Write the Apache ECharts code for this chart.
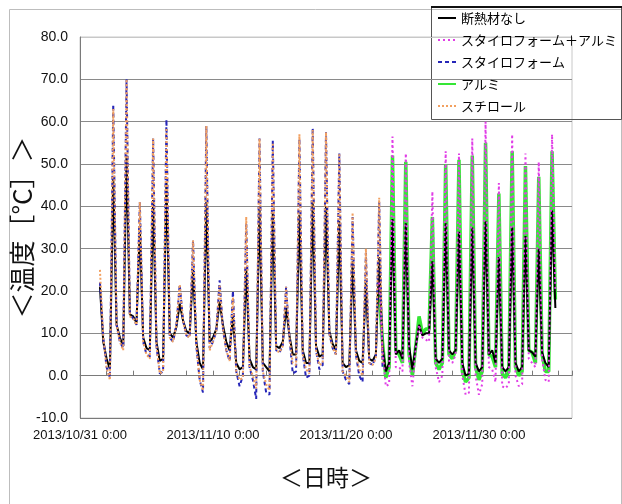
<!DOCTYPE html>
<html>
<head>
<meta charset="utf-8">
<script src="https://cdn.jsdelivr.net/npm/echarts@6/dist/echarts.min.js"></script>
<style>
html, body { margin: 0; background: #fff; }
#chart { width: 622px; height: 504px; }
</style>
</head>
<body>
<div id="chart"></div>
<script>
// x = days since 2013/10/31 0:00, one reading every 6 hours
var stepDay = 0.25;
var firstDay = 1.5;     // 2013/11/01 12:00
var secondDay = 22.5;   // 2013/11/22 12:00 (アルミ runs start)

var tickLabels = ['2013/10/31 0:00', '2013/11/10 0:00', '2013/11/20 0:00', '2013/11/30 0:00'];
var seriesNames = ['断熱材なし', 'スタイロフォーム＋アルミ', 'スタイロフォーム', 'アルミ', 'スチロール'];

// 断熱材なし (from firstDay)
var noInsul = [
	21, 8,
	4, 1.5, 47, 12,
	9, 7, 52, 14.5,
	14, 12.5, 35, 9,
	6.5, 6, 41.5, 8,
	3.5, 4, 45.5, 10,
	9, 11.5, 17, 13,
	10.5, 10, 25, 8,
	3, 1.5, 41, 8,
	9, 11, 17.5, 12,
	8, 6, 14, 3,
	1.5, 2, 25.5, 4,
	2, 1.5, 40, 3,
	2, 1, 38.5, 7,
	6.5, 8, 16, 9.5,
	5, 5, 38, 6,
	3, 3, 41, 7,
	4.5, 5, 40, 10.5,
	7.5, 6, 36.5, 3,
	2, 2.5, 27, 6,
	3.5, 3, 22, 4,
	3.5, 5, 28, 7,
	1, 3, 37, 5,
	6, 4, 36, 7,
	1.5, 7, 12, 9.5,
	10, 10, 27, 4,
	3, 4, 36, 6,
	5, 6, 34, 3,
	0, 0.5, 35, 3,
	1, 2, 36.5, 5,
	6, 3, 28, 2,
	1, 2, 35, 3,
	1, 2, 33, 6,
	5.5, 4.5, 30, 5.5,
	3, 2, 39, 16
];

// スタイロフォーム (from firstDay)
var styro = [
	22, 9,
	2, -0.5, 64, 12,
	8, 6.5, 70, 14.5,
	13.5, 12, 41, 8,
	5, 4.5, 56, 7,
	0.5, 1, 60.5, 9,
	8, 12, 21.5, 13,
	9.5, 9, 32, 7,
	-1, -4, 59, 6.5,
	8, 10.5, 22.5, 11,
	6, 3.5, 20, 1,
	-2.5, 0, 36, 2,
	-1, -5.5, 56, 1,
	-4, -4.5, 55.5, 6,
	5.5, 7, 21, 9,
	0.5, 1, 56, 5,
	-0.5, 0, 58.5, 6,
	1.5, 2.5, 57.5, 10,
	6.5, 5, 52.5, 1,
	-1, -2, 37.5, 5,
	0, -1.5, 29, 3,
	2.5, 4.5, 41, 2
];

// スチロール (from firstDay)
var styrol = [
	25, 9,
	2, -1, 63, 12,
	8, 6, 70, 14,
	13.5, 12, 41, 8,
	5, 4, 56, 7,
	0.5, 1, 58.5, 9,
	8, 12, 21.5, 13,
	9.5, 9, 32, 7,
	-1, -3.5, 59, 6,
	8, 10.5, 21.5, 11,
	6, 3.5, 18.5, 1,
	-1, -0.5, 37.5, 2,
	0, -3, 56, 1,
	-2, -3.5, 55, 6,
	5.5, 7, 21, 9,
	3, 2.5, 57, 5,
	1.5, 0.5, 58, 6,
	2.5, 3, 57.5, 10,
	6.5, 5, 52.5, 1,
	0, -1.5, 38.5, 5,
	1.5, 0, 30, 3,
	2.5, 4, 42, 3
];

// アルミ (from secondDay)
var alumi = [
	20, 8,
	-0.5, 2, 52, 6,
	5, 3, 50.5, 5,
	0, 7, 14, 10,
	11, 11, 37.5, 3,
	1.5, 3, 50, 5,
	4, 6, 51, 1,
	-1.5, -0.5, 52, 2,
	-1, 1, 55, 5,
	4.5, 2, 43, 0.5,
	-0.5, 1, 53, 2,
	0, 1, 49.5, 6,
	5.5, 3, 47, 5,
	1, 1, 53, 18
];

// スタイロフォーム＋アルミ (from secondDay)
var styroAlumi = [
	22, 6,
	-2.5, -2, 56.5, 2,
	2, 1, 52.5, 3,
	-2.5, 6.5, 12, 9,
	8.5, 8, 43.5, 2,
	-1.5, 0, 53, 3.5,
	3, 5, 52.5, 0,
	-4.5, -4, 56, 0,
	-4.5, -2, 60, 2,
	1.5, -1.5, 45.5, -2.5,
	-3, -2, 57, 0,
	-2.5, -2, 52.5, 4,
	3, 2, 50.5, 4,
	-1, -1.5, 57, 20
];

function toPairs(start, values) {
	return values.map(function (v, i) {
		return [start + i * stepDay, v];
	});
}

var numFont = '"Liberation Sans", Arial, sans-serif';
var jpFont = '"Noto Sans CJK JP", sans-serif';

var chart = echarts.init(document.getElementById('chart'));

var option = {
	animation: false,
	backgroundColor: '#fff',
	graphic: [
		{ type: 'rect', shape: { x: 9.5, y: 9.5, width: 612, height: 500 }, style: { fill: 'none', stroke: '#bdbdbd', lineWidth: 1 } },
		{ type: 'rect', shape: { x: 431.5, y: 7.5, width: 190, height: 112 }, style: { fill: 'none', stroke: '#555', lineWidth: 1 } },
		{ type: 'line', shape: { x1: 431, y1: 7, x2: 622, y2: 7 }, style: { stroke: '#111', lineWidth: 2 } }
	],
	grid: {
		left: 80,
		right: 50,
		top: 37,
		bottom: 86,
		containLabel: false,
		outerBoundsMode: 'none',
		show: true,
		borderColor: '#c8c8c8',
		borderWidth: 1
	},
	legend: {
		orient: 'vertical',
		left: 433,
		top: 8,
		padding: [3, 0, 0, 4],
		itemWidth: 18,
		itemHeight: 14,
		itemGap: 8,
		data: seriesNames,
		itemStyle: { opacity: 0 },
		textStyle: {
			fontFamily: jpFont,
			fontSize: 13,
			lineHeight: 14,
			color: '#000'
		}
	},
	xAxis: {
		type: 'value',
		min: 0,
		max: 37,
		interval: 2,
		splitLine: { show: false },
		axisLine: { lineStyle: { color: '#7a7a7a' } },
		axisTick: { inside: true, length: 5, lineStyle: { color: '#7a7a7a' } },
		axisLabel: {
			color: '#111',
			fontFamily: numFont,
			fontSize: 13,
			margin: 11,
			formatter: function (v) {
				return v % 10 === 0 ? tickLabels[v / 10] : '';
			}
		},
		name: '＜日時＞',
		nameLocation: 'middle',
		nameGap: 48,
		nameMoveOverlap: false,
		nameTextStyle: { fontFamily: jpFont, fontSize: 23, color: '#111' }
	},
	yAxis: {
		type: 'value',
		min: -10,
		max: 80,
		interval: 10,
		axisLine: { show: true, lineStyle: { color: '#7a7a7a' } },
		axisTick: { show: false },
		splitLine: {
			lineStyle: {
				color: ['#7a7a7a', '#8a8a8a', '#8a8a8a', '#8a8a8a', '#8a8a8a', '#8a8a8a', '#8a8a8a', '#8a8a8a', '#8a8a8a', '#c8c8c8']
			}
		},
		axisLabel: {
			color: '#111',
			fontFamily: numFont,
			fontSize: 14,
			margin: 12,
			formatter: function (v) { return v.toFixed(1); }
		},
		name: '＜温度［°C］＞',
		nameLocation: 'middle',
		nameRotate: 90,
		nameGap: 45,
		nameMoveOverlap: false,
		nameTextStyle: { fontFamily: jpFont, fontSize: 26, color: '#111' }
	},
	series: [
		{
			name: seriesNames[0], type: 'line', symbol: 'none', z: 3,
			lineStyle: { color: '#000', width: 2 }, itemStyle: { color: '#000' },
			data: toPairs(firstDay, noInsul)
		},
		{
			name: seriesNames[1], type: 'line', symbol: 'none', z: 6,
			lineStyle: { color: '#e03ee6', width: 2, type: [2, 3] }, itemStyle: { color: '#e03ee6' },
			data: toPairs(secondDay, styroAlumi)
		},
		{
			name: seriesNames[2], type: 'line', symbol: 'none', z: 4,
			lineStyle: { color: '#2626b8', width: 2, type: [4, 3] }, itemStyle: { color: '#2626b8' },
			data: toPairs(firstDay, styro)
		},
		{
			name: seriesNames[3], type: 'line', symbol: 'none', z: 2,
			lineStyle: { color: '#35e635', width: 3.5 }, itemStyle: { color: '#35e635' },
			data: toPairs(secondDay, alumi)
		},
		{
			name: seriesNames[4], type: 'line', symbol: 'none', z: 5,
			lineStyle: { color: '#f2a060', width: 2, type: [2, 2] }, itemStyle: { color: '#f2a060' },
			data: toPairs(firstDay, styrol)
		}
	]
};

chart.setOption(option);
</script>
</body>
</html>
